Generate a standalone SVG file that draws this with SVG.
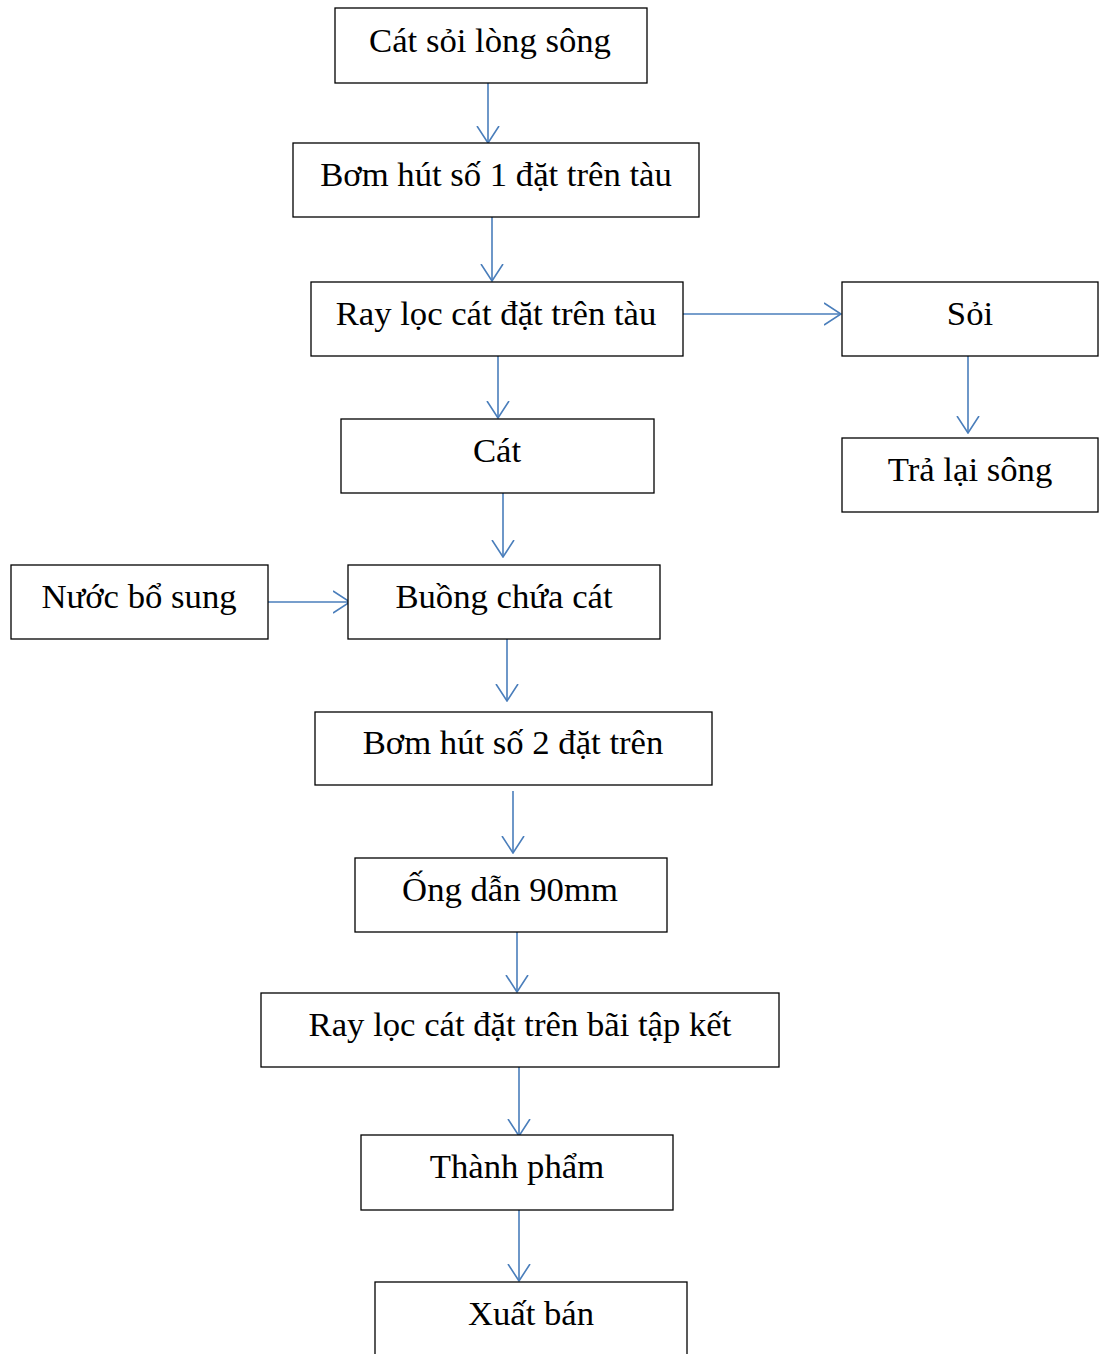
<svg xmlns="http://www.w3.org/2000/svg" width="1099" height="1354" viewBox="0 0 1099 1354">
<defs>
<style>
.box{fill:#fff;stroke:#000;stroke-width:1.3}
.lbl{font-family:"Liberation Serif","Times New Roman",serif;font-size:34.7px;fill:#000;text-anchor:middle}
.con{stroke:#4a7ebb;stroke-width:1.6;fill:none}
</style>
<marker id="ah" markerUnits="userSpaceOnUse" viewBox="0 0 18 24" refX="17" refY="12" markerWidth="18" markerHeight="24" orient="auto">
<path d="M0,1 L17,12 L0,23" fill="none" stroke="#4a7ebb" stroke-width="1.6"/>
</marker>
</defs>
<rect width="1099" height="1354" fill="#fff"/>
<g id="connectors">
<line class="con" x1="488" y1="83" x2="488" y2="143" marker-end="url(#ah)"/>
<line class="con" x1="492" y1="217" x2="492" y2="281" marker-end="url(#ah)"/>
<line class="con" x1="683" y1="314" x2="841" y2="314" marker-end="url(#ah)"/>
<line class="con" x1="498" y1="356" x2="498" y2="418" marker-end="url(#ah)"/>
<line class="con" x1="968" y1="356" x2="968" y2="433" marker-end="url(#ah)"/>
<line class="con" x1="503" y1="493" x2="503" y2="557" marker-end="url(#ah)"/>
<line class="con" x1="268" y1="602" x2="350" y2="602" marker-end="url(#ah)"/>
<line class="con" x1="507" y1="639" x2="507" y2="701" marker-end="url(#ah)"/>
<line class="con" x1="513" y1="791" x2="513" y2="853" marker-end="url(#ah)"/>
<line class="con" x1="517" y1="932" x2="517" y2="992" marker-end="url(#ah)"/>
<line class="con" x1="519" y1="1067" x2="519" y2="1136" marker-end="url(#ah)"/>
<line class="con" x1="519" y1="1210" x2="519" y2="1281" marker-end="url(#ah)"/>
</g>
<g id="n1"><rect class="box" x="335" y="8" width="312" height="75"/><text class="lbl" x="490" y="52">Cát sỏi lòng sông</text></g>
<g id="n2"><rect class="box" x="293" y="143" width="406" height="74"/><text class="lbl" x="496" y="186">Bơm hút số 1 đặt trên tàu</text></g>
<g id="n3"><rect class="box" x="311" y="282" width="372" height="74"/><text class="lbl" x="496" y="325">Ray lọc cát đặt trên tàu</text></g>
<g id="n4"><rect class="box" x="842" y="282" width="256" height="74"/><text class="lbl" x="970" y="325">Sỏi</text></g>
<g id="n5"><rect class="box" x="842" y="438" width="256" height="74"/><text class="lbl" x="970" y="481">Trả lại sông</text></g>
<g id="n6"><rect class="box" x="341" y="419" width="313" height="74"/><text class="lbl" x="497" y="462">Cát</text></g>
<g id="n7"><rect class="box" x="11" y="565" width="257" height="74"/><text class="lbl" x="139" y="608">Nước bổ sung</text></g>
<g id="n8"><rect class="box" x="348" y="565" width="312" height="74"/><text class="lbl" x="504" y="608">Buồng chứa cát</text></g>
<g id="n9"><rect class="box" x="315" y="712" width="397" height="73"/><text class="lbl" x="513" y="754">Bơm hút số 2 đặt trên</text></g>
<g id="n10"><rect class="box" x="355" y="858" width="312" height="74"/><text class="lbl" x="510" y="901">Ống dẫn 90mm</text></g>
<g id="n11"><rect class="box" x="261" y="993" width="518" height="74"/><text class="lbl" x="520" y="1036">Ray lọc cát đặt trên bãi tập kết</text></g>
<g id="n12"><rect class="box" x="361" y="1135" width="312" height="75"/><text class="lbl" x="517" y="1178">Thành phẩm</text></g>
<g id="n13"><rect class="box" x="375" y="1282" width="312" height="80"/><text class="lbl" x="531" y="1325">Xuất bán</text></g>
</svg>
